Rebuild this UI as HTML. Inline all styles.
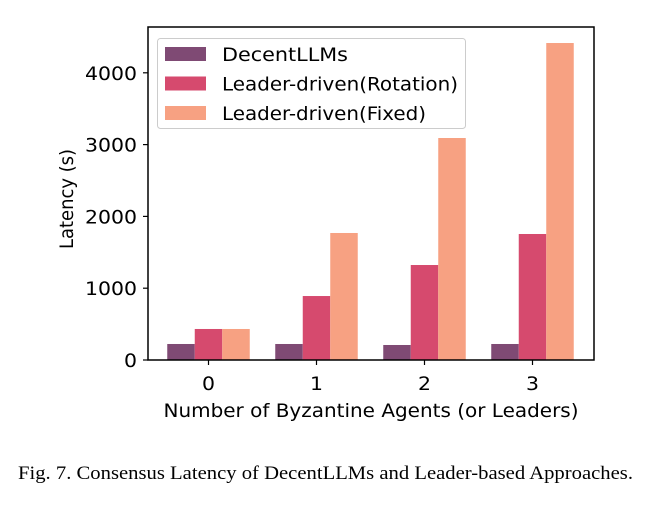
<!DOCTYPE html>
<html><head><meta charset="utf-8"><style>
body{margin:0;background:#fff;width:661px;height:504px;overflow:hidden}
svg text{font-family:"DejaVu Sans","Liberation Sans",sans-serif;fill:#000}
</style></head><body>
<svg width="661" height="504" id="c"></svg>
<script>
const categories=["0","1","2","3"];
const seriesNames=["DecentLLMs","Leader-driven(Rotation)","Leader-driven(Fixed)"];
const decent=[223,223,209,223];
const rotation=[432,891,1323,1755];
const fixed=[432,1769,3092,4415];
const yTicks=[0,1000,2000,3000,4000];
const colors=["#7f4a74","#d64a6e","#f7a182"];
const svg=document.getElementById('c');
const NS="http://www.w3.org/2000/svg";
const L=148,R=594,T=27,B=360,yMax=4638;
const y=v=>B-(v/yMax)*(B-T);
const x=i=>208.5+i*108;
const bw=27.5;
function mk(t,a,txt){const e=document.createElementNS(NS,t);for(const k in a)e.setAttribute(k,a[k]);if(txt!==undefined)e.textContent=txt;svg.appendChild(e);return e;}
const series=[decent,rotation,fixed];
series.forEach((s,si)=>s.forEach((v,i)=>{
 const r=mk('rect',{x:x(i)+(si-1.5)*bw,y:y(v),width:bw,height:B-y(v),fill:colors[si]});
 
 
}));
const ax=mk('rect',{x:L,y:T,width:R-L,height:B-T,fill:'none',stroke:'#000','stroke-width':1.5});


yTicks.forEach(t=>{
 mk('line',{x1:L-5,x2:L,y1:y(t),y2:y(t),stroke:'#000','stroke-width':1.2});
 const s=String(t);
 const tx=mk('text',{x:L-11,y:y(t)+7,'text-anchor':'end','font-size':19,textLength:s.length*13,lengthAdjust:'spacingAndGlyphs'},s);
 
 
});
categories.forEach((c,i)=>{
 mk('line',{x1:x(i),x2:x(i),y1:B,y2:B+5,stroke:'#000','stroke-width':1.2});
 const tx=mk('text',{x:x(i),y:B+30,'text-anchor':'middle','font-size':19,textLength:13,lengthAdjust:'spacingAndGlyphs'},c);
 
 
});
const xt=mk('text',{x:371,y:417,'text-anchor':'middle','font-size':19,textLength:415,lengthAdjust:'spacingAndGlyphs'},'Number of Byzantine Agents (or Leaders)');


const yt=mk('text',{x:0,y:0,'text-anchor':'middle','font-size':19,textLength:100,lengthAdjust:'spacingAndGlyphs',transform:'translate(73,199) rotate(-90)'},'Latency (s)');


const lg=mk('rect',{x:157.5,y:38.5,width:308,height:90,rx:3,fill:'#fff','fill-opacity':0.8,stroke:'#ccc'});


const lgW=[126,236,204];
seriesNames.forEach((n,i)=>{
 const yy=54+i*29.5;
 const p=mk('rect',{x:165,y:yy-7,width:41,height:14,fill:colors[i]});
 
 
 const t=mk('text',{x:222,y:yy+7,'font-size':19,textLength:lgW[i],lengthAdjust:'spacingAndGlyphs'},n);
 
 
});
const cap=mk('text',{x:18,y:479,'font-size':19,textLength:615,lengthAdjust:'spacingAndGlyphs',style:'font-family:"Liberation Serif",serif'},'Fig. 7.  Consensus Latency of DecentLLMs and Leader-based Approaches.');


</script>
</body></html>
